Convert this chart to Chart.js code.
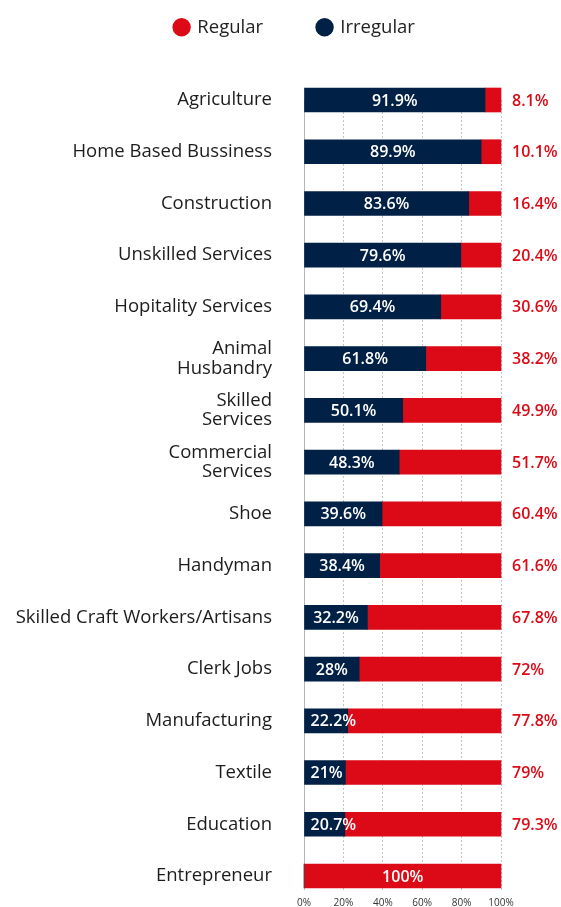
<!DOCTYPE html>
<html>
<head>
<meta charset="utf-8">
<script src="https://cdn.jsdelivr.net/npm/chart.js@4.4.0/dist/chart.umd.min.js"></script>
<style>
  html, body { margin: 0; padding: 0; background: #fff; }
  #wrap { width: 561px; height: 907px; }
</style>
</head>
<body>
<div id="wrap"><canvas id="jobsChart"></canvas></div>
<script>
// Dados do gráfico
const categories = [
    'Agriculture', 'Home Based Bussiness', 'Construction', 'Unskilled Services',
    'Hopitality Services', ['Animal', 'Husbandry'], ['Skilled', 'Services'],
    ['Commercial', 'Services'], 'Shoe', 'Handyman', 'Skilled Craft Workers/Artisans',
    'Clerk Jobs', 'Manufacturing', 'Textile', 'Education', 'Entrepreneur'
];
const irregular = [91.9, 89.9, 83.6, 79.6, 69.4, 61.8, 50.1, 48.3, 39.6, 38.4, 32.2, 28, 22.2, 21, 20.7, 0];
const regular = [8.1, 10.1, 16.4, 20.4, 30.6, 38.2, 49.9, 51.7, 60.4, 61.6, 67.8, 72, 77.8, 79, 79.3, 100];
const xTicks = [0, 20, 40, 60, 80, 100];

const NAVY = '#012045';
const RED = '#dc0a16';

Chart.defaults.font.family = '"Open Sans", "Noto Sans", sans-serif';

// Plugin para desenhar os rótulos dos valores
const valueLabels = {
    id: 'valueLabels',
    afterLayout(chart) {
        // centraliza a legenda como no original
        chart.legend.left = 29;
        chart.legend.right = chart.width;
    },
    afterDatasetsDraw(chart) {
        const ctx = chart.ctx;
        const m0 = chart.getDatasetMeta(0);
        const m1 = chart.getDatasetMeta(1);
        ctx.save();
        ctx.font = '600 16px "Open Sans"';
        ctx.textBaseline = 'middle';
        irregular.forEach((v, i) => {
            if (v <= 0) return;
            const b = m0.data[i];
            const txt = v + '%';
            const w = ctx.measureText(txt).width;
            const cx = Math.max((b.x + b.base) / 2, b.base + 6 + w / 2);
            ctx.fillStyle = '#fff';
            ctx.textAlign = 'center';
            ctx.fillText(txt, cx, b.y + 1);
        });
        regular.forEach((v, i) => {
            const b = m1.data[i];
            const txt = v + '%';
            if (irregular[i] === 0) {
                ctx.fillStyle = '#fff';
                ctx.textAlign = 'center';
                ctx.fillText(txt, (b.x + b.base) / 2, b.y + 1);
            } else {
                ctx.fillStyle = RED;
                ctx.textAlign = 'left';
                ctx.fillText(txt, chart.chartArea.right + 11, b.y + 1);
            }
        });
        ctx.restore();
    }
};

const gridDash = c => (c.tick && c.tick.value === 0) ? [] : [2, 2];

new Chart(document.getElementById('jobsChart'), {
    type: 'bar',
    data: {
        labels: categories,
        datasets: [
            { label: 'Irregular', data: irregular, backgroundColor: NAVY, barThickness: 24, clip: false, xAxisID: 'x', yAxisID: 'y' },
            { label: 'Regular', data: regular, backgroundColor: RED, barThickness: 24, clip: false, xAxisID: 'x', yAxisID: 'y' }
        ]
    },
    options: {
        indexAxis: 'y',
        responsive: true,
        maintainAspectRatio: false,
        animation: false,
        layout: { padding: { left: 0, right: 60, top: -37, bottom: 0 } },
        scales: {
            x: {
                stacked: true,
                min: 0,
                max: 100,
                afterBuildTicks: s => { s.ticks = xTicks.map(v => ({ value: v })); },
                afterFit: s => { s.height = 31; },
                grid: {
                    color: c => (c.tick && c.tick.value === 0) ? '#b5b5b5' : '#c4c4c4',
                    tickColor: '#c4c4c4',
                    tickLength: 14,
                    tickBorderDash: gridDash
                },
                border: { display: false, dash: gridDash },
                ticks: {
                    color: '#333',
                    font: { size: 10 },
                    padding: 7,
                    callback: v => v + '%'
                }
            },
            top: {
                type: 'linear',
                position: 'top',
                min: 0,
                max: 100,
                grid: { display: false },
                border: { display: false },
                ticks: { display: false },
                afterFit: s => { s.height = 53.5; }
            },
            y: {
                stacked: true,
                offset: false,
                afterFit: s => { s.width = 304; },
                grid: { display: false, drawTicks: true, tickLength: 29 },
                border: { display: false },
                ticks: {
                    color: '#1c1c1c',
                    padding: 3,
                    font: { size: 18.5, lineHeight: 1.05 }
                }
            }
        },
        plugins: {
            legend: {
                position: 'top',
                reverse: true,
                labels: {
                    usePointStyle: true,
                    pointStyle: 'circle',
                    boxWidth: 13,
                    boxHeight: 13,
                    padding: 55,
                    color: '#222',
                    font: { size: 18.5 }
                }
            },
            tooltip: { enabled: false }
        }
    },
    plugins: [valueLabels]
});
</script>
</body>
</html>
